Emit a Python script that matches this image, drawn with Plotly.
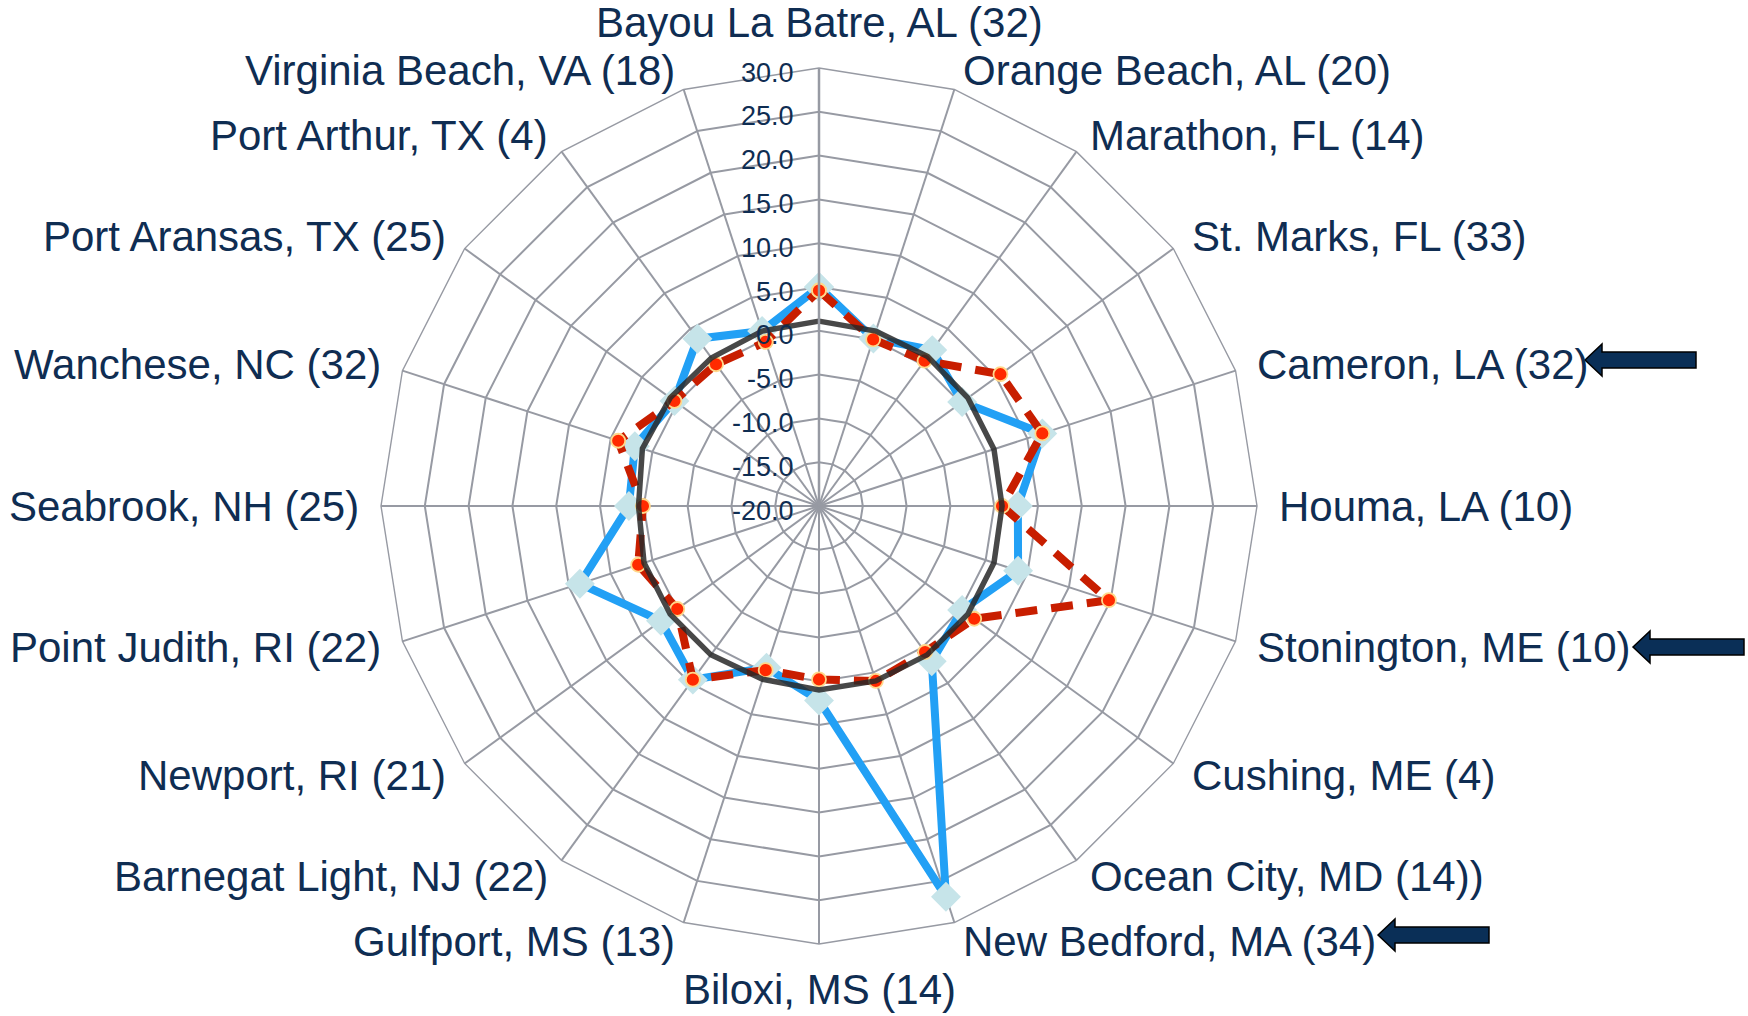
import math
import plotly.graph_objects as go

categories = ["Bayou La Batre, AL (32)", "Orange Beach, AL (20)", "Marathon, FL (14)",
              "St. Marks, FL (33)", "Cameron, LA (32)", "Houma, LA (10)",
              "Stonington, ME (10)", "Cushing, ME (4)", "Ocean City, MD (14))",
              "New Bedford, MA (34)", "Biloxi, MS (14)", "Gulfport, MS (13)",
              "Barnegat Light, NJ (22)", "Newport, RI (21)", "Point Judith, RI (22)",
              "Seabrook, NH (25)", "Wanchese, NC (32)", "Port Aransas, TX (25)",
              "Port Arthur, TX (4)", "Virginia Beach, VA (18)"]

blue_vals = [5.0, 0.1, 2.0, 0.2, 6.8, 2.7, 3.9, 0.2, 1.9, 26.9,
             2.2, -0.6, 4.5, 2.3, 8.7, 1.7, 2.1, 0.4, 3.6, 1.0]
red_vals = [4.6, 0.0, 0.5, 5.6, 6.8, 0.9, 14.8, 1.9, 0.6, 1.0,
            -0.2, -0.3, 4.5, 0.0, 1.7, 0.1, 4.1, 0.4, 0.0, -0.3]
gray_vals = [1.1, 1.0, 1.1, 1.0, 1.0, 0.9, 1.0, 1.0, 1.0, 1.0,
             1.0, 0.8, 1.0, 1.0, 1.0, 0.6, 1.2, 1.0, 0.9, 1.0]

radial_ticks = [-20, -15, -10, -5, 0, 5, 10, 15, 20, 25, 30]
radial_ticktext = ["-20.0", "-15.0", "-10.0", "-5.0", "0.0", "5.0",
                   "10.0", "15.0", "20.0", "25.0", "30.0"]

W, H = 1748, 1016
NAVY = "#0f2d52"
GRID = "#979aa3"
cx, cy, R = 819, 506, 438      # polar centre and outer radius in pixels
LABEL_GAP = 20


def closed(v):
    return list(v) + [v[0]]


cats_closed = closed(categories)

fig = go.Figure()
fig.add_trace(go.Scatterpolar(
    r=closed(blue_vals), theta=cats_closed, mode="lines+markers", cliponaxis=True,
    line=dict(color="#22a0f5", width=8),
    marker=dict(symbol="diamond", size=23, color="#c6e4e9"),
    hoverinfo="r+theta"))
fig.add_trace(go.Scatterpolar(
    r=closed(red_vals), theta=cats_closed, mode="lines+markers", cliponaxis=True,
    line=dict(color="#c81e00", width=8, dash="22px,14px"),
    marker=dict(symbol="circle", size=14, color="#ff2a00",
                line=dict(color="#ffd88a", width=1.8)),
    hoverinfo="r+theta"))
fig.add_trace(go.Scatterpolar(
    r=closed(gray_vals), theta=cats_closed, mode="lines", cliponaxis=True,
    line=dict(color="rgba(40,40,40,0.85)", width=5.5),
    hoverinfo="r+theta"))


def px(x):
    return x / W


def py(y):
    return 1 - y / H


# category labels placed just outside each spoke, Excel-style
annotations = []
N = len(categories)
for i, name in enumerate(categories):
    th = 2 * math.pi * i / N
    s, c = math.sin(th), math.cos(th)
    x = cx + (R + LABEL_GAP) * s
    y = cy - (R + LABEL_GAP) * c
    xanchor = "center" if abs(s) < 0.1 else ("left" if s > 0 else "right")
    yanchor = "bottom" if c > 0.99 else ("top" if c < -0.99 else "middle")
    annotations.append(dict(x=px(x), y=py(y), xref="paper", yref="paper",
                            text=name, showarrow=False, xanchor=xanchor,
                            yanchor=yanchor, font=dict(size=42, color=NAVY)))

# block arrows pointing left at the highlighted labels (tip positions in px)
shapes = []
arrow_tips = [(1585, 360), (1633, 647), (1378, 935)]
for tx, ty in arrow_tips:
    hl, hh, sh, L = 17, 16, 8, 111
    pts = [(tx, ty), (tx + hl, ty - hh), (tx + hl, ty - sh), (tx + L, ty - sh),
           (tx + L, ty + sh), (tx + hl, ty + sh), (tx + hl, ty + hh)]
    path = "M " + " L ".join(f"{px(a):.5f},{py(b):.5f}" for a, b in pts) + " Z"
    shapes.append(dict(type="path", xref="paper", yref="paper", path=path,
                       fillcolor="#0a2f57", line=dict(color="#000000", width=1.5)))

fig.update_layout(
    width=W, height=H,
    margin=dict(l=0, r=0, t=0, b=0),
    paper_bgcolor="white",
    showlegend=False,
    font=dict(family="Liberation Sans, Arial, sans-serif", color=NAVY),
    shapes=shapes,
    annotations=annotations,
    polar=dict(
        domain=dict(x=[(cx - R) / W, (cx + R) / W], y=[1 - (cy + R) / H, 1 - (cy - R) / H]),
        bgcolor="white",
        gridshape="linear",
        radialaxis=dict(
            range=[-20, 30], tickvals=radial_ticks, ticktext=radial_ticktext,
            angle=90, side="counterclockwise", showline=True, linecolor=GRID,
            linewidth=2.5, gridcolor=GRID, gridwidth=1.6, ticks="",
            tickfont=dict(size=27, color=NAVY)),
        angularaxis=dict(
            type="category", direction="clockwise", rotation=90,
            showline=True, linecolor=GRID, linewidth=1.4,
            gridcolor=GRID, gridwidth=1.6, ticks="", showticklabels=False),
    ),
)

fig.write_html("out.html", config={"displayModeBar": False},
               post_script="document.body.style.margin='0';")
